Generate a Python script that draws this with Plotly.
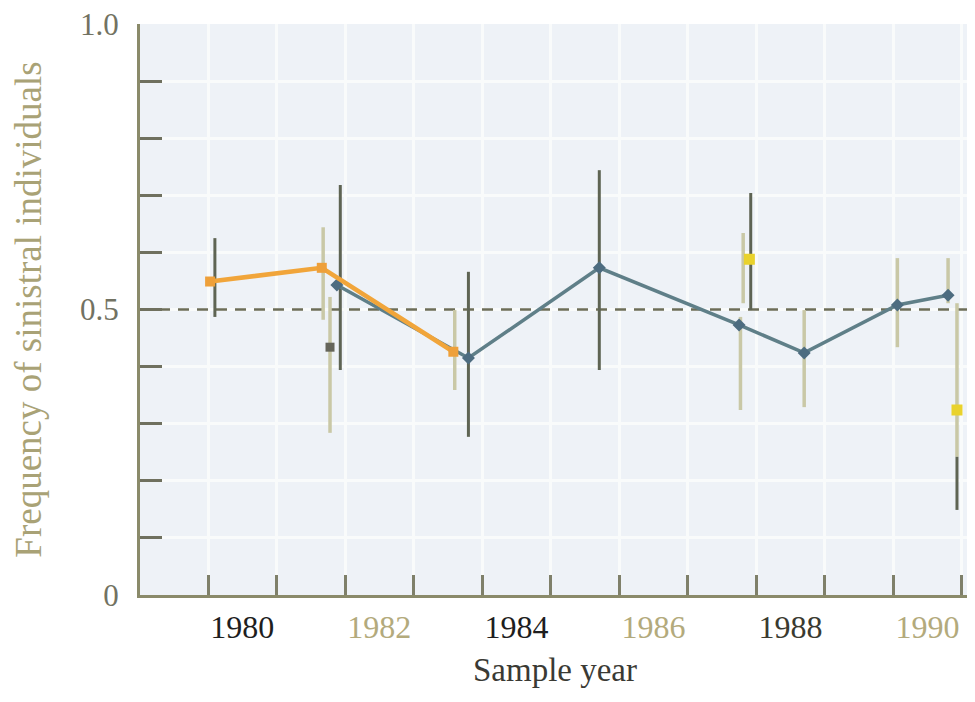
import plotly.graph_objects as go

# ---- data ----
orange_x = [1979.53, 1981.16, 1983.08]
orange_y = [0.549, 0.573, 0.426]

blue_x = [1981.38, 1983.30, 1985.21, 1987.25, 1988.20, 1989.56, 1990.30]
blue_y = [0.543, 0.415, 0.573, 0.473, 0.424, 0.508, 0.525]

gray_x = [1981.28]
gray_y = [0.434]

yellow_x = [1987.40, 1990.43]
yellow_y = [0.588, 0.324]

# error bars: x, upper, lower
dark_bar_x = [1979.60, 1981.43, 1983.30, 1985.21, 1987.42, 1990.43]
dark_bar_hi = [0.625, 0.718, 0.566, 0.744, 0.704, 0.242]
dark_bar_lo = [0.487, 0.394, 0.277, 0.394, 0.499, 0.149]

light_bar_x = [1981.18, 1981.28, 1983.10, 1987.31, 1987.27, 1988.20, 1989.56, 1990.30, 1990.43]
light_bar_hi = [0.644, 0.522, 0.499, 0.634, 0.487, 0.499, 0.590, 0.590, 0.511]
light_bar_lo = [0.482, 0.284, 0.359, 0.511, 0.324, 0.329, 0.434, 0.511, 0.242]

reference_level = 0.5

y_tick_vals = [0, 0.1, 0.2, 0.3, 0.4, 0.5, 0.6, 0.7, 0.8, 0.9, 1.0]
y_tick_text = ["0", "", "", "", "", "0.5", "", "", "", "", "1.0"]

x_label_vals = [1980, 1982, 1984, 1986, 1988, 1990]
x_label_colors = ["#1e1e1e", "#b3aa7c", "#1e1e1e", "#b3aa7c", "#3a3a30", "#b3aa7c"]
x_tick_start = 1979.5

x_range = [1978.507, 1990.62]


def segments(xs, his, los):
    sx, sy = [], []
    for x, h, l in zip(xs, his, los):
        sx += [x, x, None]
        sy += [l, h, None]
    return sx, sy


fig = go.Figure()

fig.add_trace(go.Scatter(x=x_range, y=[reference_level, reference_level], mode="lines",
                         line=dict(color="#6c6d58", width=2.5, dash="11px,8px"),
                         hoverinfo="skip"))

lx, ly = segments(light_bar_x, light_bar_hi, light_bar_lo)
fig.add_trace(go.Scatter(x=lx, y=ly, mode="lines",
                         line=dict(color="#c9c8a6", width=3.5), hoverinfo="skip"))
dx, dy = segments(dark_bar_x, dark_bar_hi, dark_bar_lo)
fig.add_trace(go.Scatter(x=dx, y=dy, mode="lines",
                         line=dict(color="#5e6453", width=3), hoverinfo="skip"))

fig.add_trace(go.Scatter(x=blue_x, y=blue_y, mode="lines+markers",
                         line=dict(color="#5f7f88", width=3.5),
                         marker=dict(color="#4d6c80", size=10, symbol="diamond")))
fig.add_trace(go.Scatter(x=orange_x, y=orange_y, mode="lines+markers",
                         line=dict(color="#f1a53a", width=4.5),
                         marker=dict(color="#eea03a", size=10, symbol="square")))
fig.add_trace(go.Scatter(x=gray_x, y=gray_y, mode="markers",
                         marker=dict(color="#65655a", size=9, symbol="square")))
fig.add_trace(go.Scatter(x=yellow_x, y=yellow_y, mode="markers",
                         marker=dict(color="#e9d22c", size=11, symbol="square")))

serif = "Liberation Serif"

fig.update_layout(
    width=967, height=694,
    margin=dict(l=132, r=5, t=16, b=107),
    paper_bgcolor="white",
    plot_bgcolor="#eef2f7",
    showlegend=False,
    font=dict(family=serif),
    xaxis=dict(
        range=x_range,
        automargin=False,
        ticklabeloverflow="allow",
        tickmode="array",
        tickvals=x_label_vals,
        ticktext=[f"<span style='color:{c}'>{v}</span>" for v, c in zip(x_label_vals, x_label_colors)],
        ticks="",
        tickfont=dict(family=serif, size=32, color="#1e1e1e"),
        ticklabelstandoff=2,
        showgrid=False,
        zeroline=False,
        showline=True, linecolor="#8a8a6a", linewidth=3,
        minor=dict(tickmode="linear", tick0=x_tick_start, dtick=1,
                   ticks="inside", ticklen=20, tickwidth=2.5, tickcolor="#7f806a",
                   showgrid=True, gridcolor="#f9fbfb", gridwidth=3),
        title=dict(text="Sample year", font=dict(family=serif, size=33, color="#3a3a34"), standoff=14),
    ),
    yaxis=dict(
        range=[0, 1],
        automargin=False,
        ticklabeloverflow="allow",
        tickmode="array",
        tickvals=y_tick_vals,
        ticktext=y_tick_text,
        ticks="inside", ticklen=22, tickwidth=2.5, tickcolor="#6f705e",
        tickfont=dict(family=serif, size=31, color="#727262"),
        ticklabelstandoff=12,
        showgrid=True, gridcolor="#f9fbfb", gridwidth=3,
        zeroline=False,
        showline=True, linecolor="#8a8a6a", linewidth=3,
        title=dict(text="Frequency of sinistral individuals",
                   font=dict(family=serif, size=37, color="#a9a276"), standoff=32),
    ),
)

fig.write_html("out.html")
